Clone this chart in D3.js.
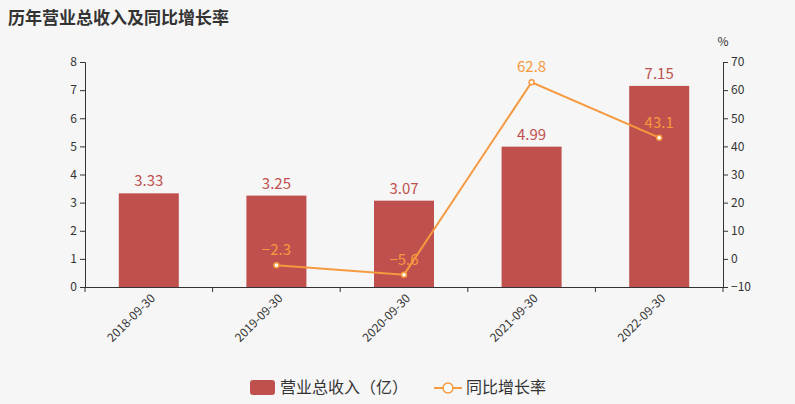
<!DOCTYPE html>
<html><head><meta charset="utf-8">
<script src="https://cdn.jsdelivr.net/npm/d3@7"></script>
<style>body{margin:0;background:#fff}text{font-family:"Noto Sans CJK SC","Noto Sans",sans-serif}</style>
</head><body><svg id="c" width="795" height="404"></svg>
<script>
const dates = ["2018-09-30","2019-09-30","2020-09-30","2021-09-30","2022-09-30"];
const revenue = [3.33, 3.25, 3.07, 4.99, 7.15];
const growth = [null, -2.3, -5.6, 62.8, 43.1];
const leftTicks = [0,1,2,3,4,5,6,7,8];
const rightTicks = [-10,0,10,20,30,40,50,60,70];

const svg = d3.select("#c");
const barColor = "#c0504d", lineColor = "#f59a3f", axisColor = "#333";
svg.append("rect").attr("width",795).attr("height",404).attr("fill","#f6f6f6");
svg.append("text").attr("x",8).attr("y",24).text("历年营业总收入及同比增长率")
  .attr("font-size",17).attr("font-weight","bold").attr("fill","#333");

const x = d3.scaleBand().domain(dates).range([85,723]);
const y = d3.scaleLinear().domain([0,8]).range([287,62]);
const y2 = d3.scaleLinear().domain([-10,70]).range([287,62]);

const gx = svg.append("g").attr("transform","translate(0,287)")
  .call(d3.axisBottom(x).tickSize(0).tickPadding(10));
gx.selectAll("text").attr("font-size",12).attr("fill","#333")
  .attr("text-anchor","end").attr("transform","rotate(-45)").attr("dx","-0.3em").attr("dy","0.3em");
gx.select(".domain").attr("stroke",axisColor);
gx.selectAll(".bnd").data(dates.concat([null])).enter().append("line")
  .attr("x1",(d,i)=>85+i*x.step()).attr("x2",(d,i)=>85+i*x.step()).attr("y1",0).attr("y2",5).attr("stroke",axisColor);

const gl = svg.append("g").attr("transform","translate(85,0)")
  .call(d3.axisLeft(y).tickValues(leftTicks).tickSize(5));
gl.selectAll("text").attr("font-size",12).attr("fill","#333");
gl.selectAll("line,.domain").attr("stroke",axisColor);

const gr = svg.append("g").attr("transform","translate(723,0)")
  .call(d3.axisRight(y2).tickValues(rightTicks).tickSize(5));
gr.selectAll("text").attr("font-size",12).attr("fill","#333");
gr.selectAll("line,.domain").attr("stroke",axisColor);
svg.append("text").attr("x",723).attr("y",46).attr("text-anchor","middle").attr("font-size",12).attr("fill","#333").text("%");

const bw = 60;
svg.selectAll(".bar").data(revenue).enter().append("rect")
  .attr("x",(d,i)=>x(dates[i])+x.bandwidth()/2-bw/2).attr("y",d=>y(d))
  .attr("width",bw).attr("height",d=>287-y(d)).attr("fill",barColor);
svg.selectAll(".bl").data(revenue).enter().append("text")
  .attr("x",(d,i)=>x(dates[i])+x.bandwidth()/2).attr("y",d=>y(d)-7)
  .attr("text-anchor","middle").attr("font-size",15).attr("fill",barColor).text(d=>d.toFixed(2));

const pts = growth.map((g,i)=>({g,d:dates[i]})).filter(p=>p.g!==null);
svg.append("path").datum(pts).attr("fill","none").attr("stroke",lineColor).attr("stroke-width",2)
  .attr("d",d3.line().x(p=>x(p.d)+x.bandwidth()/2).y(p=>y2(p.g)));
svg.selectAll(".pt").data(pts).enter().append("circle")
  .attr("cx",p=>x(p.d)+x.bandwidth()/2).attr("cy",p=>y2(p.g)).attr("r",2.5)
  .attr("fill","#fff").attr("stroke",lineColor).attr("stroke-width",1.5);
svg.selectAll(".pl").data(pts).enter().append("text")
  .attr("x",p=>x(p.d)+x.bandwidth()/2).attr("y",p=>y2(p.g)-10)
  .attr("text-anchor","middle").attr("font-size",15).attr("fill",lineColor)
  .text(p=>p.g<0?"−"+Math.abs(p.g):p.g);

const lg = svg.append("g");
lg.append("rect").attr("x",250).attr("y",380).attr("width",25).attr("height",15).attr("rx",3).attr("fill",barColor);
lg.append("text").attr("x",280).attr("y",393).attr("font-size",16).attr("fill","#333").text("营业总收入（亿）");
lg.append("line").attr("x1",434).attr("x2",462).attr("y1",388).attr("y2",388).attr("stroke",lineColor).attr("stroke-width",2);
lg.append("circle").attr("cx",448).attr("cy",388).attr("r",5).attr("fill","#fff").attr("stroke",lineColor).attr("stroke-width",1.5);
lg.append("text").attr("x",466).attr("y",393).attr("font-size",16).attr("fill","#333").text("同比增长率");
</script></body></html>
